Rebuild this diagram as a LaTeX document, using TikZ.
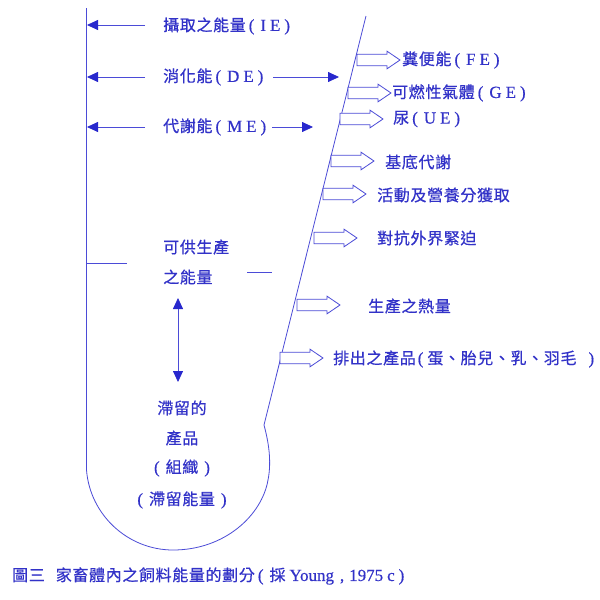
\documentclass[tikz,border=0pt]{standalone}
\usepackage{fontspec}
\setmainfont{Noto Sans CJK TC}[LetterSpace=4,FakeBold=0.6]
\newfontfamily\lat{Liberation Serif}[FakeBold=0.5,Scale=1.06]
\usetikzlibrary{arrows.meta}
\definecolor{txtblue}{RGB}{50,50,200}
\definecolor{lineblue}{RGB}{75,75,215}
\definecolor{headblue}{RGB}{40,40,205}
\newcommand\abbr[2]{\hspace{3pt}{\lat(\hspace{6pt}#1\hspace{4pt}#2\hspace{4pt})}}
\newcommand\blk[2]{\draw[blkstyle] (#1,{#2-5.8}) -- ({#1+30},{#2-5.8}) -- ({#1+30},{#2-8.8}) -- ({#1+43},#2) -- ({#1+30},{#2+8.8}) -- ({#1+30},{#2+5.8}) -- (#1,{#2+5.8}) -- cycle;}
\tikzset{
  lbl/.style={inner sep=0pt, anchor=west, text=txtblue, font=\fontsize{16}{19}\selectfont},
  clbl/.style={lbl, anchor=center},
  edge/.style={draw=lineblue, line width=0.8pt},
  arr/.style={draw=lineblue, line width=0.8pt, -{Triangle[length=11pt,width=10pt,fill=headblue,color=headblue]}},
  darr/.style={draw=lineblue, line width=0.8pt, {Triangle[length=11pt,width=10pt,fill=headblue,color=headblue]}-{Triangle[length=11pt,width=10pt,fill=headblue,color=headblue]}},
  blkstyle/.style={draw=lineblue, line width=0.8pt, fill=white, line join=miter}
}
\begin{document}
\begin{tikzpicture}[x=1pt,y=-1pt]
\useasboundingbox[fill=white] (0,0) rectangle (600,600);
% outline of the animal body
\coordinate (ltop) at (86.5,8);
\coordinate (lbot) at (86.5,470);
\coordinate (rtop) at (366,16);
\coordinate (rbot) at (264,425);
\draw[edge] (ltop) -- (lbot) .. controls (90,515) and (128,550) .. (173,550)
  .. controls (225,550) and (262,515) .. (268,480)
  .. controls (272,460) and (268,440) .. (rbot) -- (rtop);
% left text
\node[lbl] (ie) at (163,26) {攝取之能量\abbr{I}{E}};
\node[lbl] (de) at (163,77) {消化能\abbr{D}{E}};
\node[lbl] (me) at (163,127) {代謝能\abbr{M}{E}};
\coordinate (ieA) at (145,25); \coordinate (ieB) at (87,25);
\coordinate (deA) at (145,77); \coordinate (deB) at (87,77);
\coordinate (meA) at (145,127); \coordinate (meB) at (87,127);
\coordinate (deC) at (273,77); \coordinate (deD) at (339,77);
\coordinate (meC) at (272,127); \coordinate (meD) at (313,127);
\draw[arr] (ieA) -- (ieB);
\draw[arr] (deA) -- (deB);
\draw[arr] (meA) -- (meB);
\draw[arr] (deC) -- (deD);
\draw[arr] (meC) -- (meD);
% right side outputs
\blk{357}{60}
\blk{348}{93}
\blk{340}{119}
\blk{331}{161}
\blk{323}{194}
\blk{314}{238}
\blk{297}{305}
\blk{280}{358}
\node[lbl] (fe) at (402,60) {糞便能\abbr{F}{E}};
\node[lbl] (ge) at (392,93) {可燃性氣體\abbr{G}{E}};
\node[lbl] (ue) at (393,119) {尿\abbr{U}{E}};
\node[lbl] (bm) at (385,162) {基底代謝};
\node[lbl] (act) at (377,195) {活動及營養分獲取};
\node[lbl] (str) at (377,238) {對抗外界緊迫};
\node[lbl] (heat) at (368,306) {生產之熱量};
\node[lbl] (prod) at (333,359) {排出之產品{\lat\hspace{2pt}(\hspace{4pt}}蛋、胎兒、乳、羽毛{\lat\hspace{12pt})}};
% available energy
\coordinate (hA) at (86.5,263); \coordinate (hB) at (127,263);
\draw[edge] (hA) -- (hB);
\coordinate (dA) at (247,272); \coordinate (dB) at (272,272);
\draw[edge] (dA) -- (dB);
\node[lbl] (av1) at (163,247) {可供生產};
\node[lbl] (av2) at (163,277) {之能量};
\coordinate (vA) at (178,298); \coordinate (vB) at (178,382);
\draw[darr] (vA) -- (vB);
% retained
\node[clbl] (r1) at (182,408) {滯留的};
\node[clbl] (r2) at (182,438) {產品};
\node[clbl] (r3) at (182,468) {{\lat(\hspace{6pt}}組織{\lat\hspace{6pt})}};
\node[clbl] (r4) at (182,500) {{\lat(\hspace{6pt}}滯留能量{\lat\hspace{6pt})}};
% caption
\node[lbl] (cap) at (12,576) {圖三\hspace{11pt}家畜體內之飼料能量的劃分{\lat\hspace{3pt}(\hspace{6pt}}採{\lat\hspace{4pt}Young\hspace{6pt},\hspace{5pt}1975\hspace{4pt}c\hspace{4pt})}};
\end{tikzpicture}
\end{document}
